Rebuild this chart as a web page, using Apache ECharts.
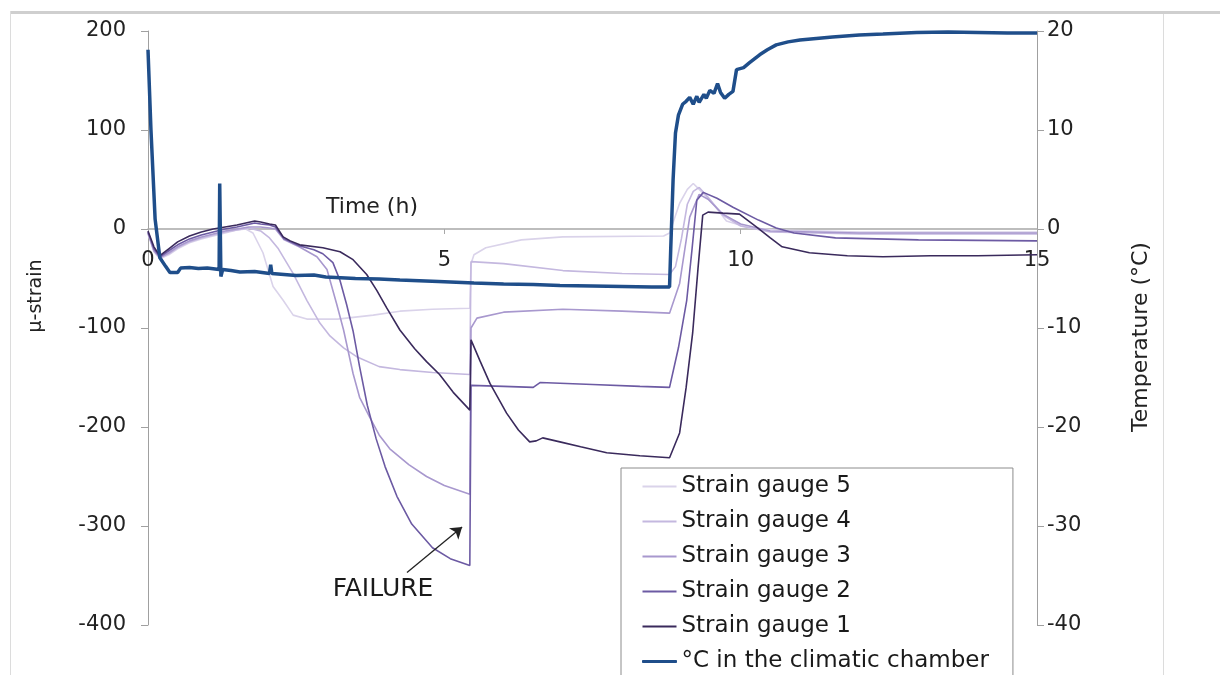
<!DOCTYPE html>
<html>
<head>
<meta charset="utf-8">
<script src="https://cdn.jsdelivr.net/npm/echarts@6/dist/echarts.min.js"></script>
<style>
html,body{margin:0;padding:0;background:#fff}
#chart{width:1220px;height:675px}
</style>
</head>
<body>
<div id="chart"></div>
<script>
// time (h), micro-strain
var gauge1 = [[0,-2],[0.1,-18],[0.2,-27],[0.35,-20],[0.5,-13],[0.7,-7],[0.9,-3],[1.1,0],[1.3,2],[1.5,4],[1.65,6],[1.8,8],[1.9,7],[2.05,5],[2.15,4],[2.28,-8],[2.4,-12],[2.56,-16],[2.95,-19],[3.24,-23],[3.46,-31],[3.69,-46],[3.86,-62],[4.03,-80],[4.25,-102],[4.5,-121],[4.7,-134],[4.92,-147],[5.15,-165],[5.43,-183],[5.45,-112],[5.6,-133],[5.77,-156],[6.05,-186],[6.25,-203],[6.44,-215],[6.55,-214],[6.66,-211],[6.95,-215],[7.3,-220],[7.74,-226],[8.3,-229],[8.8,-231],[8.97,-206],[9.08,-160],[9.19,-105],[9.28,-40],[9.36,14],[9.45,17],[9.7,16],[9.98,15],[10.27,2],[10.5,-9],[10.7,-18],[11.16,-24],[11.8,-27],[12.4,-28],[13.2,-27],[14,-27],[15,-26]];
var gauge2 = [[0,-3],[0.1,-20],[0.2,-28],[0.35,-22],[0.5,-16],[0.7,-10],[0.9,-6],[1.1,-3],[1.3,0],[1.5,2],[1.65,4],[1.8,6],[1.9,5],[2.05,4],[2.15,2],[2.3,-10],[2.55,-17],[2.8,-21],[2.95,-25],[3.12,-34],[3.24,-52],[3.35,-76],[3.46,-103],[3.57,-139],[3.7,-178],[3.85,-212],[4.0,-240],[4.2,-270],[4.45,-298],[4.8,-322],[5.1,-333],[5.43,-340],[5.45,-158],[6.0,-159],[6.5,-160],[6.62,-155],[7.5,-157],[8.3,-159],[8.8,-160],[8.95,-120],[9.09,-72],[9.18,-20],[9.26,29],[9.37,37],[9.6,31],[9.87,22],[10.3,9],[10.6,1],[10.9,-4],[11.6,-9],[13,-11],[15,-12]];
var gauge3 = [[0,-4],[0.1,-22],[0.2,-29],[0.35,-24],[0.5,-18],[0.7,-12],[0.9,-8],[1.1,-5],[1.3,-2],[1.5,0],[1.7,2],[1.9,2],[2.05,1],[2.15,0],[2.3,-11],[2.55,-18],[2.85,-28],[3.02,-41],[3.18,-75],[3.3,-102],[3.46,-146],[3.57,-170],[3.74,-190],[3.9,-208],[4.08,-222],[4.4,-238],[4.7,-250],[5.0,-259],[5.43,-268],[5.45,-100],[5.55,-90],[6.0,-84],[7,-81],[8,-83],[8.8,-85],[8.97,-55],[9.14,12],[9.3,35],[9.45,30],[9.7,15],[10.0,5],[10.5,-2],[12,-4],[15,-4]];
var gauge4 = [[0,-4],[0.1,-22],[0.2,-29],[0.35,-25],[0.5,-19],[0.7,-13],[0.9,-9],[1.1,-6],[1.3,-3],[1.5,-1],[1.7,1],[1.9,-2],[2.05,-9],[2.2,-20],[2.45,-45],[2.68,-72],[2.9,-95],[3.07,-108],[3.3,-120],[3.52,-129],[3.9,-139],[4.25,-142],[4.8,-145],[5.43,-147],[5.45,-33],[6.0,-35],[7.0,-42],[8.0,-45],[8.8,-46],[8.9,-38],[9.0,-10],[9.1,25],[9.2,38],[9.3,42],[9.45,32],[9.7,14],[10.0,3],[10.5,-3],[12,-5],[15,-5]];
var gauge5 = [[0,-5],[0.1,-23],[0.2,-30],[0.35,-26],[0.5,-20],[0.7,-14],[0.9,-10],[1.1,-7],[1.3,-4],[1.5,-1],[1.65,0],[1.77,-4],[1.94,-24],[2.11,-58],[2.28,-72],[2.45,-87],[2.68,-91],[3.2,-91],[3.8,-87],[4.25,-83],[4.8,-81],[5.43,-80],[5.45,-35],[5.5,-26],[5.7,-19],[6.3,-11],[7,-8],[8.7,-7],[8.8,-4],[8.97,26],[9.1,40],[9.2,46],[9.3,40],[9.5,28],[9.76,8],[10.15,1],[10.6,-1],[12,-3],[15,-3]];

// time (h), deg C
var chamberTemp = [[0,18.1],[0.05,10],[0.12,1],[0.2,-2.9],[0.3,-3.8],[0.37,-4.4],[0.5,-4.4],[0.55,-3.95],[0.7,-3.9],[0.85,-4.0],[1.0,-3.95],[1.2,-4.1],[1.21,4.6],[1.23,-4.8],[1.26,-4.1],[1.4,-4.2],[1.55,-4.35],[1.8,-4.3],[2.05,-4.5],[2.07,-3.6],[2.09,-4.5],[2.5,-4.7],[2.8,-4.65],[3.0,-4.85],[3.5,-5.0],[3.9,-5.05],[4.25,-5.15],[4.9,-5.3],[5.5,-5.45],[6.0,-5.55],[6.5,-5.6],[6.95,-5.7],[7.5,-5.75],[8.0,-5.8],[8.5,-5.85],[8.8,-5.86],[8.82,-2],[8.86,5],[8.9,9.7],[8.95,11.5],[9.02,12.6],[9.08,12.9],[9.14,13.3],[9.2,12.6],[9.26,13.4],[9.3,12.8],[9.38,13.6],[9.42,13.2],[9.48,14.0],[9.55,13.7],[9.61,14.7],[9.66,13.8],[9.73,13.2],[9.8,13.6],[9.87,13.9],[9.93,16.1],[10.05,16.3],[10.15,16.8],[10.32,17.6],[10.45,18.1],[10.6,18.6],[10.8,18.9],[11.0,19.1],[11.55,19.4],[12.0,19.6],[12.4,19.7],[12.97,19.85],[13.5,19.9],[14,19.85],[14.5,19.8],[15,19.8]];

var legendNames = ['Strain gauge 5','Strain gauge 4','Strain gauge 3','Strain gauge 2','Strain gauge 1','°C in the climatic chamber'];
var gaugeColors = ['#DAD3EA','#C4B8DF','#A898CE','#6C5AA3','#3A2A5C'];
var tempColor = '#1F4E8A';

var FONT = 'DejaVu Sans';
var chart = echarts.init(document.getElementById('chart'));

function gaugeSeries(name, data, color, extra) {
  var s = {
    name: name,
    type: 'line',
    yAxisIndex: 0,
    data: data,
    showSymbol: false,
    symbol: 'none',
    lineStyle: {color: color, width: 1.6},
    itemStyle: {color: color},
    z: 2
  };
  if (extra) Object.assign(s, extra);
  return s;
}

var legendData = legendNames.map(function (n, i) {
  if (i === 5) return {name: n, icon: 'rect', itemStyle: {color: tempColor, borderColor: tempColor, borderWidth: 1}};
  return {name: n, icon: 'rect', itemStyle: {color: gaugeColors[i]}};
});

chart.setOption({
  animation: false,
  backgroundColor: '#fff',
  grid: {left: 148, right: 183, top: 31, bottom: 50, containLabel: false, outerBoundsMode: 'none'},
  legend: {
    data: legendData,
    orient: 'vertical',
    left: 621,
    top: 468,
    height: 240,
    itemWidth: 34,
    itemHeight: 2,
    itemGap: 12,
    padding: [7, 24, 40, 21],
    borderColor: '#8c8c8c',
    borderWidth: 1,
    selectedMode: false,
    textStyle: {fontFamily: FONT, fontSize: 23, color: '#1a1a1a', lineHeight: 23}
  },
  xAxis: {
    type: 'value',
    min: 0, max: 15, interval: 5,
    position: 'bottom',
    offset: -396,   // put the time axis on the zero-strain line
    axisLine: {onZero: false, lineStyle: {color: '#a8a8a8', width: 1.5}},
    axisTick: {show: true, length: 5, lineStyle: {color: '#a8a8a8'}},
    axisLabel: {fontFamily: FONT, fontSize: 21, color: '#222', margin: 21},
    splitLine: {show: false}
  },
  yAxis: [{
    type: 'value',
    min: -400, max: 200, interval: 100,
    axisLine: {show: true, lineStyle: {color: '#a0a0a0'}},
    axisTick: {show: true, length: 7, lineStyle: {color: '#a0a0a0'}},
    axisLabel: {fontFamily: FONT, fontSize: 21, color: '#222', margin: 22},
    splitLine: {show: false}
  }, {
    type: 'value',
    min: -40, max: 20, interval: 10,
    position: 'right',
    axisLine: {show: true, lineStyle: {color: '#a0a0a0'}},
    axisTick: {show: true, length: 7, lineStyle: {color: '#a0a0a0'}},
    axisLabel: {fontFamily: FONT, fontSize: 21, color: '#222', margin: 10},
    splitLine: {show: false}
  }],
  graphic: [
    {type: 'rect', shape: {x: 10, y: 11, width: 1210, height: 3}, style: {fill: '#cfcfcf'}, silent: true},
    {type: 'rect', shape: {x: 10, y: 11, width: 1, height: 664}, style: {fill: '#dcdcdc'}, silent: true},
    {type: 'rect', shape: {x: 1163, y: 14, width: 1, height: 661}, style: {fill: '#dcdcdc'}, silent: true},
    {type: 'text', x: 372, y: 207, style: {text: 'Time (h)', fontFamily: FONT, fontSize: 22, fill: '#222', textAlign: 'center', textVerticalAlign: 'middle'}, silent: true},
    {type: 'text', x: 36, y: 296, rotation: Math.PI / 2, style: {text: 'μ-strain', fontFamily: FONT, fontSize: 19, fill: '#222', textAlign: 'center', textVerticalAlign: 'middle'}, silent: true},
    {type: 'text', x: 1141, y: 337, rotation: Math.PI / 2, style: {text: 'Temperature (°C)', fontFamily: FONT, fontSize: 22, fill: '#222', textAlign: 'center', textVerticalAlign: 'middle'}, silent: true},
    {type: 'text', x: 383, y: 589, style: {text: 'FAILURE', fontFamily: FONT, fontSize: 25, fill: '#1a1a1a', textAlign: 'center', textVerticalAlign: 'middle'}, silent: true}
  ],
  series: [
    gaugeSeries(legendNames[0], gauge5, gaugeColors[0]),
    gaugeSeries(legendNames[1], gauge4, gaugeColors[1]),
    gaugeSeries(legendNames[2], gauge3, gaugeColors[2]),
    gaugeSeries(legendNames[3], gauge2, gaugeColors[3], {
      markLine: {
        silent: true,
        symbol: ['none', 'arrow'],
        symbolSize: 11,
        label: {show: false},
        lineStyle: {color: '#222', width: 1.3, type: 'solid'},
        data: [[{coord: [4.37, -347]}, {coord: [5.3, -301]}]]
      }
    }),
    gaugeSeries(legendNames[4], gauge1, gaugeColors[4]),
    {
      name: legendNames[5],
      type: 'line',
      yAxisIndex: 1,
      data: chamberTemp,
      showSymbol: false,
      symbol: 'none',
      lineStyle: {color: tempColor, width: 3.5},
      itemStyle: {color: tempColor},
      z: 3
    }
  ]
});
</script>
</body>
</html>
